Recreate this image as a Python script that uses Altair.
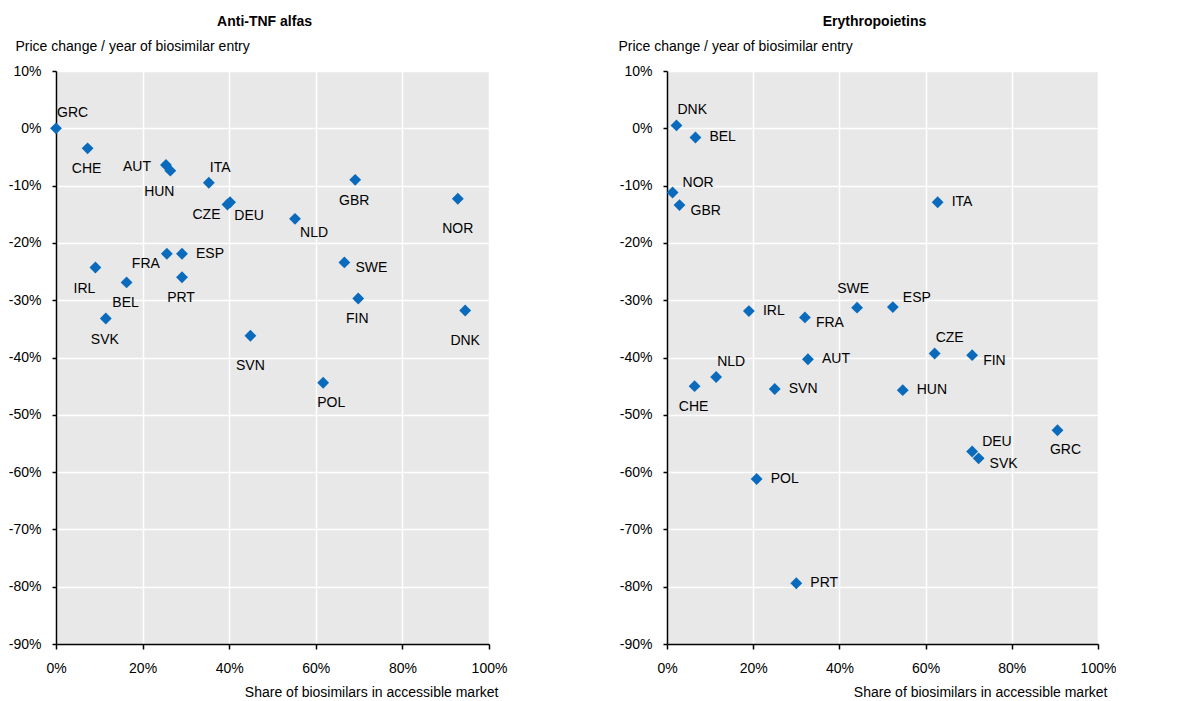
import altair as alt
import pandas as pd

# ---- Data ----
tnf_countries = ["GRC", "CHE", "AUT", "HUN", "ITA", "CZE", "DEU", "GBR", "NOR", "NLD", "ESP",
                 "FRA", "IRL", "BEL", "PRT", "SVK", "SWE", "FIN", "DNK", "SVN", "POL"]
tnf_share = [0.0, 7.3, 25.4, 26.4, 35.3, 39.6, 40.2, 69.1, 92.8, 55.2, 29.1,
             25.6, 9.1, 16.3, 29.1, 11.5, 66.6, 69.8, 94.5, 44.9, 61.7]
tnf_change = [0.0, -3.5, -6.4, -7.4, -9.5, -13.3, -12.9, -9.0, -12.3, -15.8, -21.9,
              -21.9, -24.3, -26.9, -26.0, -33.2, -23.4, -29.7, -31.8, -36.2, -44.4]
tnf_place = ["NE", "S", "W", "SW", "NE", "WSW", "SE", "S", "S2", "SE", "E",
             "WSW", "SW", "S", "S", "S", "ESE", "S", "S2", "S2", "SSE"]

epo_countries = ["DNK", "BEL", "NOR", "GBR", "ITA", "IRL", "FRA", "SWE", "ESP", "CZE", "FIN",
                 "AUT", "NLD", "CHE", "SVN", "HUN", "GRC", "DEU", "SVK", "POL", "PRT"]
epo_share = [2.2, 6.6, 1.3, 2.9, 62.8, 19.0, 32.0, 44.1, 52.4, 62.1, 70.8,
             32.7, 11.4, 6.4, 25.0, 54.7, 90.6, 70.8, 72.3, 20.8, 30.0]
epo_change = [0.5, -1.6, -11.2, -13.4, -12.9, -31.9, -33.0, -31.3, -31.2, -39.3, -39.6,
              -40.3, -43.4, -45.0, -45.5, -45.7, -52.7, -56.4, -57.6, -61.2, -79.4]
epo_place = ["NE", "E", "ENE", "ESE", "E", "E", "ESE", "N", "ENE", "NE", "ESE",
             "E", "NE", "S", "E", "E", "SSE", "ENE", "ESE", "E", "E"]

x_ticks = [0, 20, 40, 60, 80, 100]
y_ticks = [10, 0, -10, -20, -30, -40, -50, -60, -70, -80, -90]

# label placement styles: (align, dx, dy)
PLACEMENTS = {
    "N": ("center", -4, -19),
    "NE": ("left", 1, -15),
    "ENE": ("left", 10, -9),
    "E": ("left", 14, 0),
    "ESE": ("left", 11, 6),
    "SE": ("center", 19, 14),
    "SSE": ("center", 8, 20),
    "S": ("center", -1, 21),
    "S2": ("center", 0, 30),
    "SW": ("center", -11, 21),
    "WSW": ("right", -7, 10),
    "W": ("right", -15, 2),
}

FONT = "Liberation Sans"
FS = 14
BLUE = "#0a6bbd"
H = 573


def panel(title, countries, share, change, place, title_x, width):
    df = pd.DataFrame({"country": countries, "share": share, "change": change, "place": place})
    base = alt.Chart(df)
    x = alt.X("share:Q",
              scale=alt.Scale(domain=[0, 100], nice=False),
              axis=alt.Axis(values=x_ticks, labelExpr="datum.value + '%'",
                            title="Share of biosimilars in accessible market",
                            titleAnchor="end", titleAlign="right", titleBaseline="middle",
                            titleX=width + 9, titleY=48,
                            titleFontWeight="normal", titleFontSize=FS, titleFont=FONT,
                            titleColor="#000",
                            labelFontSize=FS, labelFont=FONT, labelColor="#000",
                            labelPadding=12, labelFlush=False,
                            domainColor="#000", domainWidth=1.5, tickColor="#000", tickSize=5,
                            tickWidth=1.5, grid=True, gridColor="#ffffff", gridWidth=1.5))
    y = alt.Y("change:Q",
              scale=alt.Scale(domain=[-90, 10], nice=False),
              axis=alt.Axis(values=y_ticks, labelExpr="datum.value + '%'",
                            title="Price change / year of biosimilar entry",
                            titleAngle=0, titleAlign="left", titleBaseline="bottom",
                            titleX=title_x, titleY=-18,
                            titleFontWeight="normal", titleFontSize=FS, titleFont=FONT,
                            titleColor="#000",
                            labelFontSize=FS, labelFont=FONT, labelColor="#000",
                            labelPadding=11, labelFlush=False,
                            domainColor="#000", domainWidth=1.5, tickColor="#000", tickSize=4,
                            tickWidth=1.5, grid=True, gridColor="#ffffff", gridWidth=1.5))
    pts = base.mark_point(shape="diamond", filled=True, size=140, color=BLUE, opacity=1).encode(
        x=x, y=y)
    layers = [pts]
    for name, (align, dx, dy) in PLACEMENTS.items():
        if name not in place:
            continue
        layers.append(
            base.transform_filter(alt.datum.place == name)
            .mark_text(align=align, baseline="middle", dx=dx, dy=dy, fontSize=FS, font=FONT,
                       color="#000")
            .encode(x="share:Q", y="change:Q", text="country:N"))
    return alt.layer(*layers).properties(
        width=width, height=H,
        title=alt.TitleParams(title, fontSize=14, font=FONT, fontWeight="bold",
                              anchor="middle", dx=-8, color="#000", offset=10))


left = panel("Anti-TNF alfas", tnf_countries, tnf_share, tnf_change, tnf_place, -41, 433)
right = panel("Erythropoietins", epo_countries, epo_share, epo_change, epo_place, -49, 431)

chart = alt.hconcat(left, right, spacing=111).properties(
    padding={"left": 0, "top": 7, "right": 0, "bottom": 0}
).configure_view(fill="#e8e8e8", stroke=None).configure_concat(spacing=111)

chart.save("out.html", embed_options={"renderer": "svg", "actions": False})
